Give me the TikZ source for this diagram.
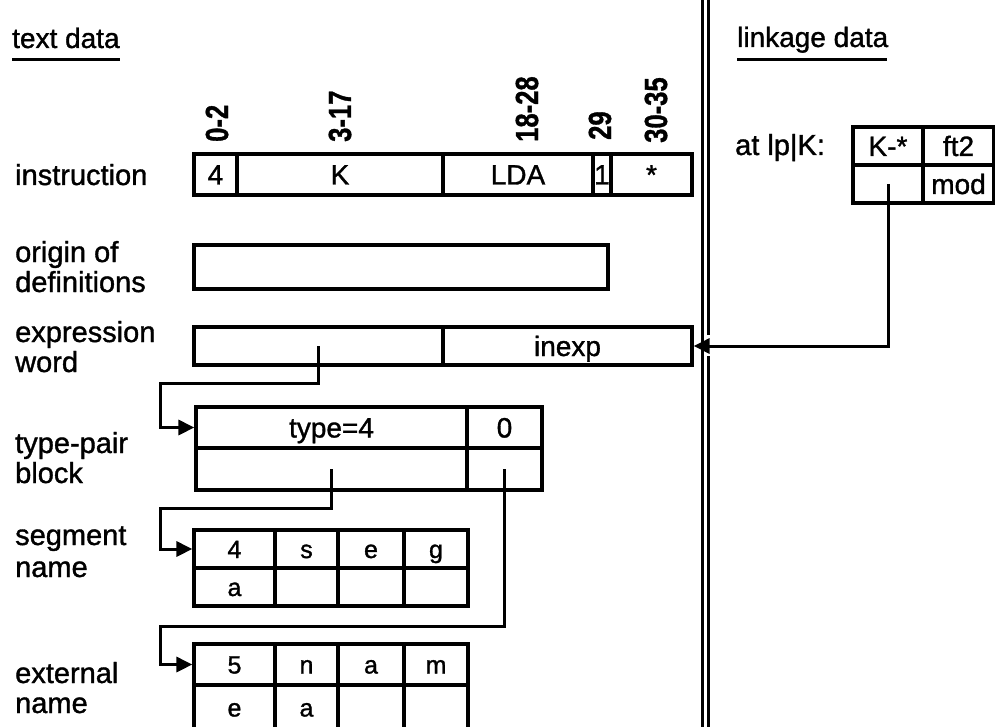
\documentclass[tikz,border=0pt]{standalone}
\usepackage{fontspec}
\setmainfont{Liberation Sans}[FakeBold=1.2]
\usepackage{graphicx}
\usetikzlibrary{arrows.meta}
\begin{document}
\begin{tikzpicture}[x=1pt,y=-1pt,
  lbl/.style={anchor=base west, inner sep=0pt, font=\fontsize{29}{34}\selectfont},
  head/.style={anchor=base west, inner sep=0pt, font=\fontsize{28}{32}\selectfont},
  uline/.style={line width=3pt},
  num/.style={rotate=90, anchor=west, inner sep=0pt, font=\fontsize{32}{36}\selectfont\bfseries},
  cellA/.style={draw, line width=3.2pt, inner sep=0pt, text height=20pt, text depth=0pt, font=\fontsize{28}{30}\selectfont},
  cellB/.style={draw, line width=3.2pt, inner sep=0pt, text height=18pt, text depth=0pt, font=\fontsize{25}{28}\selectfont},
  conn/.style={line width=3pt, -{Triangle[length=16pt,width=15pt]}},
  wall/.style={line width=3pt}]
\useasboundingbox (0,0) rectangle (995,727);

% headings
\node[head] (htext) at (12,48) {text data};
\draw[uline] (12,60) -- (120,60);
\node[head] (hlink) at (737,47) {linkage data};
\draw[uline] (737,60) -- (887,60);

% separator (double line)
\draw[wall] (702,0) -- (702,727);
\draw[wall] (708,0) -- (708,335);
\draw[wall] (708,356) -- (708,727);

% row labels
\node[lbl] (l1) at (15,185) {instruction};
\node[lbl] (l2a) at (15,262) {origin of};
\node[lbl] (l2b) at (15,292) {definitions};
\node[lbl] (l3a) at (15,342) {expression};
\node[lbl] (l3b) at (15,372) {word};
\node[lbl] (l4a) at (15,453) {type-pair};
\node[lbl] (l4b) at (15,483) {block};
\node[lbl] (l5a) at (15,545) {segment};
\node[lbl] (l5b) at (15,577) {name};
\node[lbl] (l6a) at (15,683) {external};
\node[lbl] (l6b) at (15,713) {name};

% bit positions
\node[num] (n1) at (217,142) {\scalebox{0.8}[1]{0-2}};
\node[num] (n2) at (340,142) {\scalebox{0.8}[1]{3-17}};
\node[num] (n3) at (527,142) {\scalebox{0.8}[1]{18-28}};
\node[num] (n4) at (600,140) {\scalebox{0.8}[1]{29}};
\node[num] (n5) at (656,143) {\scalebox{0.8}[1]{30-35}};

% instruction
\node[cellA, minimum width=43pt, minimum height=41pt] (i1) at (215.5,174.5) {4};
\node[cellA, minimum width=206pt, minimum height=41pt] (i2) at (340,174.5) {K};
\node[cellA, minimum width=150pt, minimum height=41pt] (i3) at (518,174.5) {LDA};
\node[cellA, minimum width=18pt, minimum height=41pt] (i4) at (602,174.5) {1};
\node[cellA, minimum width=81pt, minimum height=41pt] (i5) at (651.5,174.5) {*};

% origin of definitions
\node[cellA, minimum width=414pt, minimum height=44pt] (og) at (401,267) {};

% expression word
\node[cellA, minimum width=249pt, minimum height=38pt] (ew1) at (318.5,346) {};
\node[cellA, minimum width=249pt, minimum height=38pt] (ew2) at (567.5,346) {inexp};

% type-pair block
\node[cellA, minimum width=271pt, minimum height=41pt] (tp1) at (331.5,427.5) {type=4};
\node[cellA, minimum width=75pt, minimum height=41pt] (tp2) at (504.5,427.5) {0};
\node[cellA, minimum width=271pt, minimum height=42pt] (tp3) at (331.5,469) {};
\node[cellA, minimum width=75pt, minimum height=42pt] (tp4) at (504.5,469) {};

% segment name
\node[cellB, minimum width=81pt, minimum height=38pt] (s1) at (234.5,549) {4};
\node[cellB, minimum width=63pt, minimum height=38pt] (s2) at (306.5,549) {s};
\node[cellB, minimum width=66pt, minimum height=38pt] (s3) at (371,549) {e};
\node[cellB, minimum width=64pt, minimum height=38pt] (s4) at (436,549) {g};
\node[cellB, minimum width=81pt, minimum height=38pt] (s5) at (234.5,587) {a};
\node[cellB, minimum width=63pt, minimum height=38pt] (s6) at (306.5,587) {};
\node[cellB, minimum width=66pt, minimum height=38pt] (s7) at (371,587) {};
\node[cellB, minimum width=64pt, minimum height=38pt] (s8) at (436,587) {};

% external name
\node[cellB, minimum width=81pt, minimum height=41pt] (x1) at (234.5,664.5) {5};
\node[cellB, minimum width=63pt, minimum height=41pt] (x2) at (306.5,664.5) {n};
\node[cellB, minimum width=66pt, minimum height=41pt] (x3) at (371,664.5) {a};
\node[cellB, minimum width=64pt, minimum height=41pt] (x4) at (436,664.5) {m};
\node[cellB, minimum width=81pt, minimum height=45pt] (x5) at (234.5,707.5) {e};
\node[cellB, minimum width=63pt, minimum height=45pt] (x6) at (306.5,707.5) {a};
\node[cellB, minimum width=66pt, minimum height=45pt] (x7) at (371,707.5) {};
\node[cellB, minimum width=64pt, minimum height=45pt] (x8) at (436,707.5) {};

% linkage data
\node[lbl] (at) at (735,155) {at lp|K:};
\node[cellA, minimum width=70pt, minimum height=38pt] (lk1) at (888,146) {K-*};
\node[cellA, minimum width=71pt, minimum height=38pt] (lk2) at (958.5,146) {ft2};
\node[cellA, minimum width=70pt, minimum height=38pt] (lk3) at (888,184) {};
\node[cellA, minimum width=71pt, minimum height=38pt] (lk4) at (958.5,184) {mod};

% connectors
\draw[conn] (lk3.center) |- (ew2.east);
\draw[conn] (ew1.center) |- (160,383) |- (tp1.west);
\draw[conn] (tp3.center) |- (160,508) |- (s1.west);
\draw[conn] (tp4.center) |- (160,626) |- (x1.west);
\end{tikzpicture}
\end{document}
